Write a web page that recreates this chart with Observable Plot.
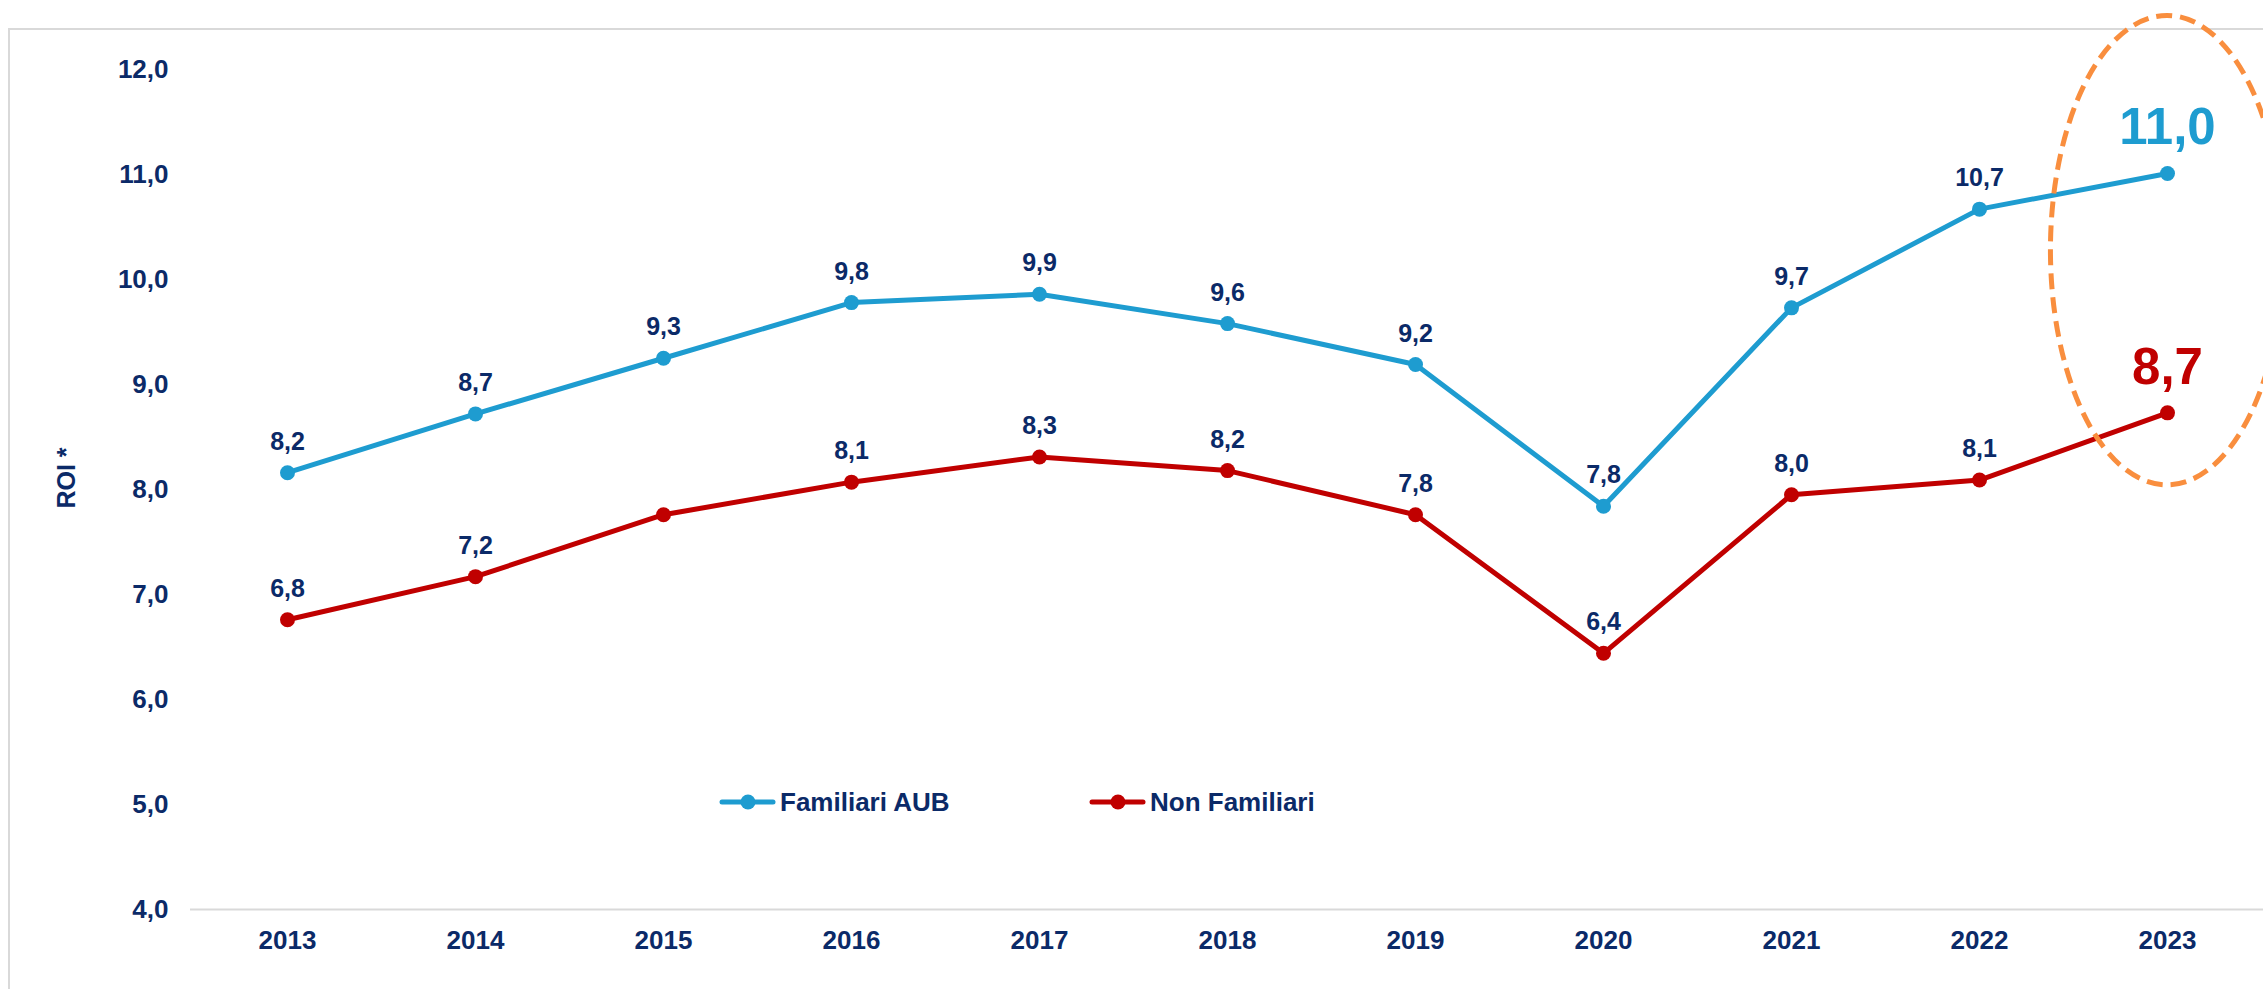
<!DOCTYPE html>
<html>
<head>
<meta charset="utf-8">
<script src="https://cdn.jsdelivr.net/npm/d3@7"></script>
<script src="https://cdn.jsdelivr.net/npm/@observablehq/plot@0.6"></script>
<style>
  html, body { margin: 0; padding: 0; background: #fff; overflow: hidden; width: 2263px; height: 989px; }
  #wrap { position: relative; width: 2263px; height: 989px; font-family: "Liberation Sans", Arial, sans-serif; }
  #frame { position: absolute; left: 8px; top: 28px; width: 2400px; height: 1100px; border: 2px solid #d9d9d9; box-sizing: border-box; }
  #chart { position: absolute; left: 0; top: 0; }
  .leg { position: absolute; top: 787px; height: 30px; display: flex; align-items: center; font-weight: bold; font-size: 26px; color: #0B2A68; white-space: nowrap; }
  .leg svg { margin-right: 4px; }
  #ylabel { position: absolute; left: 66px; top: 478px; transform: translate(-50%, -50%) rotate(-90deg); font-weight: bold; font-size: 25px; color: #0B2A68; white-space: nowrap; }
</style>
</head>
<body>
<div id="wrap">
  <div id="frame"></div>
  <div id="chart"></div>
  <div id="ylabel">ROI *</div>
  <div class="leg" id="leg1" style="left:719px"></div>
  <div class="leg" id="leg2" style="left:1089px"></div>
</div>
<script>
// ---- Data ----
const years = ["2013", "2014", "2015", "2016", "2017", "2018", "2019", "2020", "2021", "2022", "2023"];
const familiariAUB = [8.16, 8.72, 9.25, 9.78, 9.86, 9.58, 9.19, 7.84, 9.73, 10.67, 11.01];
const nonFamiliari = [6.76, 7.17, 7.76, 8.07, 8.31, 8.18, 7.76, 6.44, 7.95, 8.09, 8.73];
const familiariLabels = ["8,2", "8,7", "9,3", "9,8", "9,9", "9,6", "9,2", "7,8", "9,7", "10,7", "11,0"];
const nonFamiliariLabels = ["6,8", "7,2", null, "8,1", "8,3", "8,2", "7,8", "6,4", "8,0", "8,1", "8,7"];
const seriesNames = ["Familiari AUB", "Non Familiari"];
const yTicks = [4, 5, 6, 7, 8, 9, 10, 11, 12];
// highlight ellipse around the last year (in data units)
const highlightYear = "2023";
const highlightTop = 12.51;
const highlightBottom = 8.04;
const highlightHalfWidthSteps = 0.62;

// ---- Styles ----
const NAVY = "#0B2A68";
const BLUE = "#1E9CD0";
const RED = "#C00000";
const ORANGE = "#F98E3E";
const colors = [BLUE, RED];

const rows = [];
years.forEach((yr, i) => {
  rows.push({year: yr, value: familiariAUB[i], label: familiariLabels[i], series: seriesNames[0]});
  rows.push({year: yr, value: nonFamiliari[i], label: nonFamiliariLabels[i], series: seriesNames[1]});
});
const lastYear = years[years.length - 1];
const regularLabels = rows.filter(d => d.label != null && d.year !== lastYear);
const bigLabels = rows.filter(d => d.label != null && d.year === lastYear);
const colorOf = s => colors[seriesNames.indexOf(s)];

function highlightEllipse(index, scales) {
  const {x, y} = scales;
  const step = x.step ? x.step() : 188;
  const cy = (y(highlightTop) + y(highlightBottom)) / 2;
  const ry = Math.abs(y(highlightBottom) - y(highlightTop)) / 2;
  const g = d3.create("svg:g");
  g.append("ellipse")
    .attr("cx", x(highlightYear))
    .attr("cy", cy)
    .attr("rx", step * highlightHalfWidthSteps)
    .attr("ry", ry)
    .attr("fill", "none")
    .attr("stroke", ORANGE)
    .attr("stroke-width", 5)
    .attr("stroke-dasharray", "16 8");
  return g.node();
}

const chart = Plot.plot({
  width: 2263,
  height: 989,
  marginLeft: 190,
  marginRight: 0,
  marginTop: 69,
  marginBottom: 80,
  style: {fontFamily: "'Liberation Sans', Arial, sans-serif", fontSize: "26px", fontWeight: "bold", color: NAVY, background: "transparent", overflow: "visible"},
  x: {type: "point", domain: years, padding: 0.5},
  y: {domain: [4, 12]},
  marks: [
    Plot.ruleY([4], {stroke: "#d9d9d9", strokeWidth: 2}),
    Plot.axisY({ticks: yTicks, tickSize: 0, tickPadding: 22, tickFormat: d => d.toFixed(1).replace(".", ","), label: null, fontSize: 26, fontWeight: "bold", fill: NAVY}),
    Plot.axisX({tickSize: 0, tickPadding: 21, label: null, fontSize: 26, fontWeight: "bold", fill: NAVY}),
    Plot.line(rows, {x: "year", y: "value", z: "series", stroke: d => colorOf(d.series), strokeWidth: 5, strokeLinejoin: "round", strokeLinecap: "round"}),
    Plot.dot(rows, {x: "year", y: "value", r: 7.5, fill: d => colorOf(d.series), stroke: null}),
    Plot.text(regularLabels, {x: "year", y: "value", text: "label", lineAnchor: "bottom", dy: -23, fontSize: 25, fontWeight: "bold", fill: NAVY}),
    Plot.text(bigLabels, {x: "year", y: "value", text: "label", lineAnchor: "bottom", dy: -29, fontSize: 51, fontWeight: "bold", fill: d => colorOf(d.series)}),
    highlightEllipse
  ]
});
document.getElementById("chart").appendChild(chart);

// ---- Legend ----
function legendItem(el, name, color) {
  el.innerHTML = `<svg width="57" height="16"><line x1="3" y1="8" x2="54" y2="8" stroke="${color}" stroke-width="5" stroke-linecap="round"/><circle cx="29" cy="8" r="7.5" fill="${color}"/></svg><span>${name}</span>`;
}
legendItem(document.getElementById("leg1"), seriesNames[0], colors[0]);
legendItem(document.getElementById("leg2"), seriesNames[1], colors[1]);
</script>
</body>
</html>
